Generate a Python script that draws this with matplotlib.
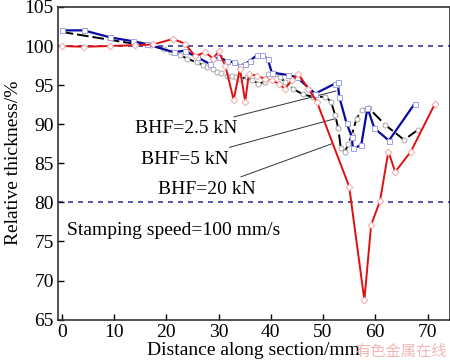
import matplotlib
matplotlib.use('Agg')
import matplotlib.pyplot as plt

plt.rcParams['font.family'] = ['Liberation Serif', 'DejaVu Serif']

# BHF = 2.5 kN (blue)
x_25 = [0, 4.2, 9.3, 13.7, 16.3, 21.4, 23.5, 25.8, 28.4, 30, 31.6, 32.9, 34.1, 35.1, 36, 37.3,
        38.4, 39.4, 40.2, 43.2, 45, 48.5, 52.3, 52.8, 53.1, 54.5, 55.5, 55.7, 57.3, 58.5, 59.8,
        62.6, 67.5]
y_25 = [102, 102, 101.1, 100.6, 100.25, 99.2, 99.4, 98.6, 97.7, 98.6, 98.1, 97.9, 97.5, 97.7,
        98.1, 98.8, 98.9, 98.35, 96.6, 96.3, 96.0, 93.9, 95.2, 95.4, 93.5, 90.1, 88.4, 86.9,
        87.3, 92.1, 89.5, 87.9, 92.6]

# BHF = 5 kN (black dashed)
x_5 = [0, 13.7, 17, 19.5, 21, 22.7, 24, 25.8, 27, 27.8, 29, 29.7, 30.5, 31.6, 32.5, 33.3, 34.1,
       35.4, 36.5, 37.6, 38.9, 39.5, 40.8, 41.8, 42.7, 44.3, 46.2, 48.1, 50.4, 51.5, 52.3, 52.9,
       53.4, 54.2, 54.8, 55.5, 56.4, 57.4, 58.7, 61.9, 65.5, 68.2]
y_5 = [101.8, 100.3, 100.1, 99.6, 99.2, 98.8, 98.4, 97.9, 97.6, 97.3, 97.0, 96.7, 96.5, 96.2,
       96.1, 96.0, 95.8, 96.0, 95.6, 95.2, 95.4, 96.4, 96.4, 96.0, 95.4, 94.5, 93.8, 93.5, 93.5,
       92.9, 91.2, 89.5, 86.9, 86.5, 87.4, 88.6, 90.7, 91.8, 92.1, 89.9, 88.0, 89.3]

# BHF = 20 kN (red)
x_20 = [0, 4.2, 9.3, 14, 17.5, 21.3, 23.6, 25.5, 27.4, 29, 30, 31.3, 32.9, 34.1, 35.1, 35.8,
        37.3, 38.9, 40.2, 41.5, 42.7, 44, 45.3, 47.2, 48.8, 55, 57.9, 59.2, 60.9, 62.5, 63.8,
        66.8, 71.4]
y_20 = [100, 99.9, 100, 100.1, 100.2, 100.9, 100.3, 98.7, 99.2, 98.4, 99.3, 97.5, 93.1, 97.1,
        92.9, 96.4, 96.2, 95.8, 95.6, 95.2, 94.5, 95.6, 96.4, 94.5, 92.9, 82.0, 67.5, 77.1, 80.2,
        86.5, 83.9, 86.5, 92.6]

ref_levels = [100, 80]

fig = plt.figure(figsize=(4.5, 3.64), dpi=100)
ax = fig.add_axes([0.129, 0.122, 0.870, 0.859])

for lv in ref_levels:
    ax.axhline(lv, color='#3a3a9a', lw=1.2, ls=(0, (3, 3)), zorder=1)

ax.plot(x_5, y_5, color='black', lw=1.4, ls=(0, (6, 2)), marker='o', ms=3.6,
        mfc='white', mec='#a8a8a8', mew=0.7, markevery=slice(2, None), zorder=3)
ax.plot(x_25, y_25, color='#0a0aa0', lw=1.6, marker='s', ms=3.6,
        mfc='white', mec='#a0a0e8', mew=0.7, zorder=4)
ax.plot(x_20, y_20, color='#e01010', lw=1.4, marker='D', ms=3.4,
        mfc='white', mec='#f4a8a8', mew=0.7, zorder=5)

fs = 14
ax.annotate('BHF=2.5 kN', xy=(52.5, 94.25), xytext=(14.1, 89.4), fontsize=fs, va='center',
            arrowprops=dict(arrowstyle='-', lw=0.7, color='#333333', shrinkA=2, shrinkB=0))
ax.annotate('BHF=5 kN', xy=(52.3, 90.7), xytext=(15.2, 85.5), fontsize=fs, va='center',
            arrowprops=dict(arrowstyle='-', lw=0.7, color='#333333', shrinkA=2, shrinkB=0))
ax.annotate('BHF=20 kN', xy=(51.7, 87.5), xytext=(18.5, 81.7), fontsize=fs, va='center',
            arrowprops=dict(arrowstyle='-', lw=0.7, color='#333333', shrinkA=2, shrinkB=0))
ax.text(1.05, 76.4, 'Stamping speed=100 mm/s', fontsize=fs, va='center')

ax.set_xlim(-0.7, 74.2)
ax.set_ylim(65, 105)
ax.set_xticks(range(0, 71, 10))
ax.set_yticks(range(65, 106, 5))
ax.tick_params(direction='in', length=4, width=1, labelsize=fs, pad=3,
               top=False, right=False)
for sp in ax.spines.values():
    sp.set_linewidth(1.2)
    sp.set_color('#333333')

ax.set_xlabel('Distance along section/mm', fontsize=fs, labelpad=1)
ax.set_ylabel('Relative thickness/%', fontsize=fs, labelpad=2)

fig.text(0.993, 0.012, '有色金属在线', fontsize=11, color='#f2b8b8', ha='right', va='bottom',
         family=['Noto Sans CJK SC', 'DejaVu Sans'])

fig.savefig('out.png', dpi=100)
